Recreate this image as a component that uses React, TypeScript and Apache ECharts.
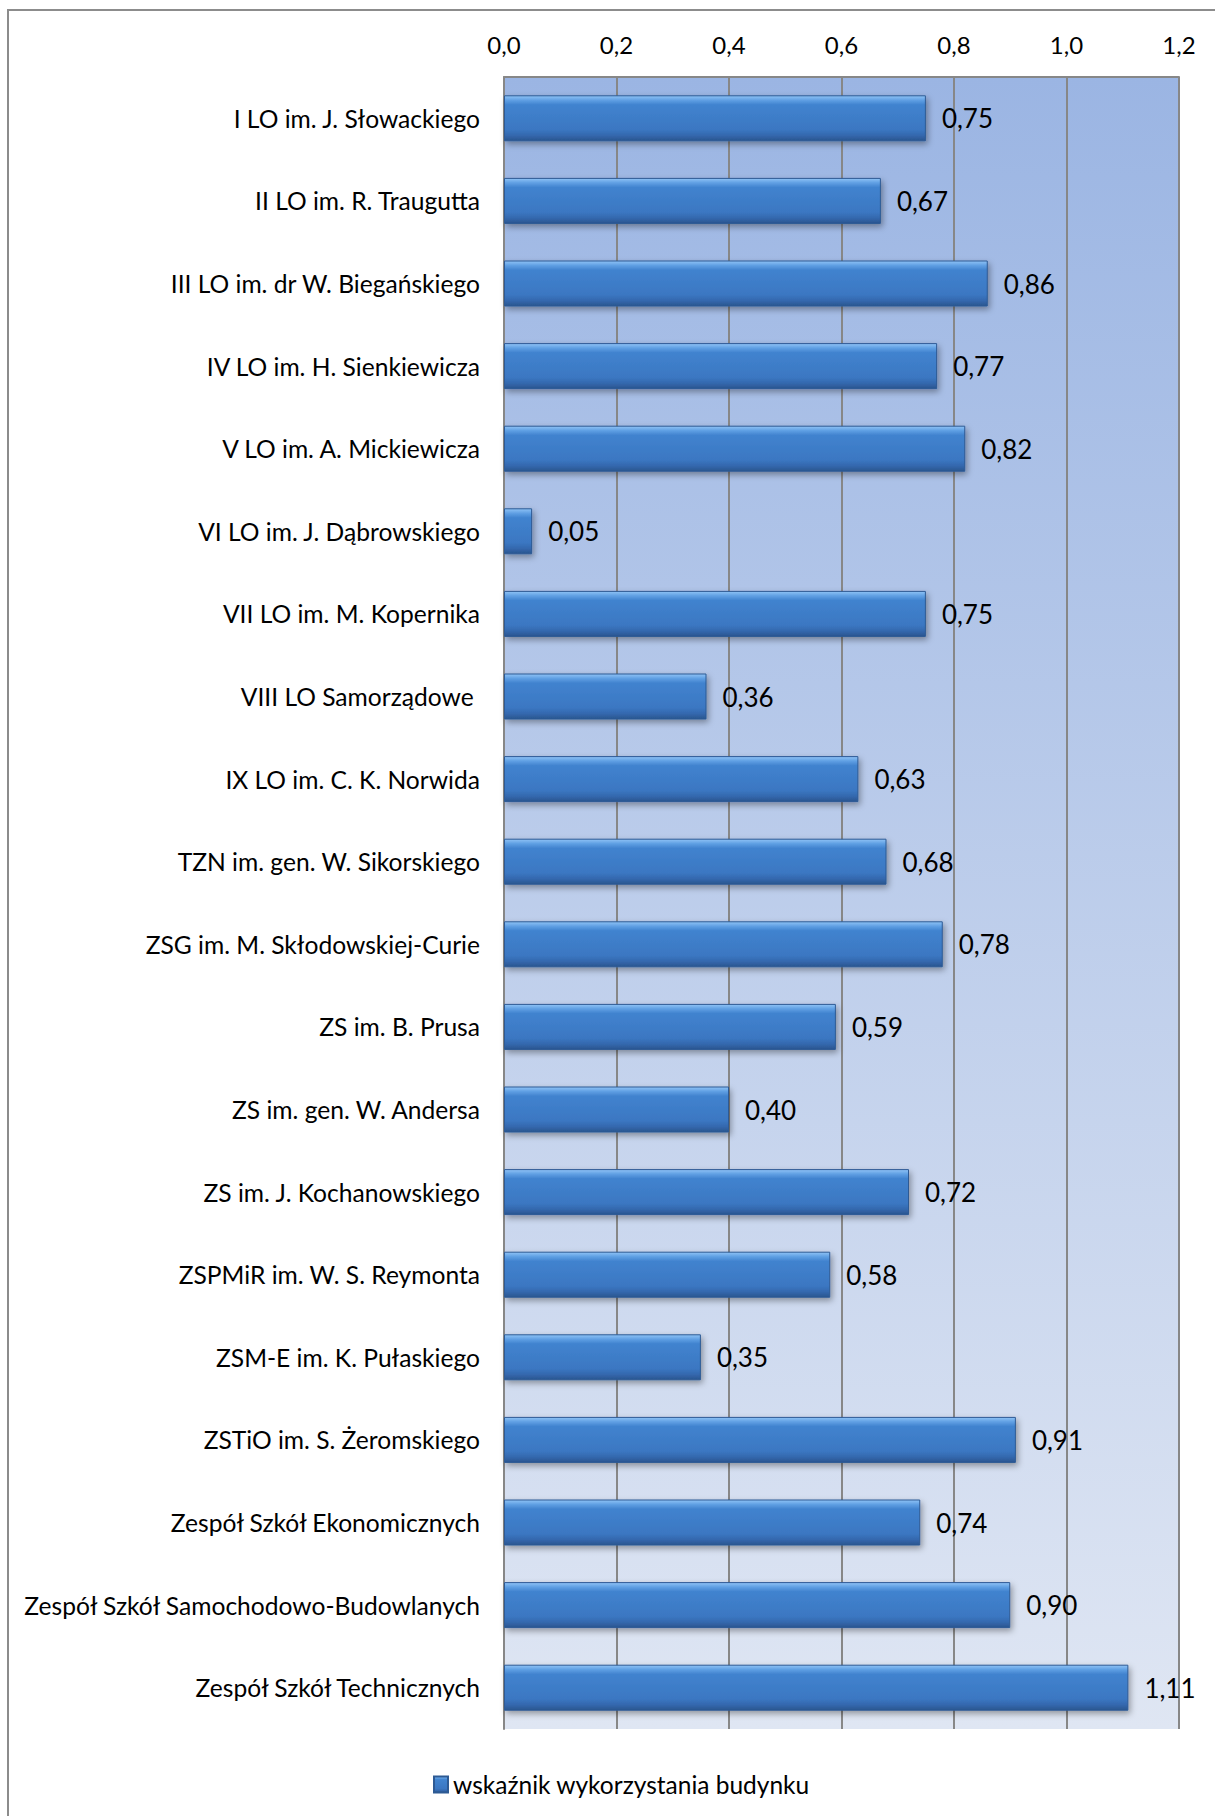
import React, { useEffect, useRef } from "react";
import * as echarts from "echarts";

const categories: string[] = [
  "I LO im. J. Słowackiego",
  "II LO im. R. Traugutta",
  "III LO im. dr W. Biegańskiego",
  "IV LO im. H. Sienkiewicza",
  "V LO im. A. Mickiewicza",
  "VI LO im. J. Dąbrowskiego",
  "VII LO im. M. Kopernika",
  "VIII LO Samorządowe ",
  "IX LO im. C. K. Norwida",
  "TZN im. gen. W. Sikorskiego",
  "ZSG im. M. Skłodowskiej-Curie",
  "ZS im. B. Prusa",
  "ZS im. gen. W. Andersa",
  "ZS im. J. Kochanowskiego",
  "ZSPMiR im. W. S. Reymonta",
  "ZSM-E im. K. Pułaskiego",
  "ZSTiO im. S. Żeromskiego",
  "Zespół Szkół Ekonomicznych",
  "Zespół Szkół Samochodowo-Budowlanych",
  "Zespół Szkół Technicznych",
];

const values: number[] = [
  0.75, 0.67, 0.86, 0.77, 0.82, 0.05, 0.75, 0.36, 0.63, 0.68, 0.78, 0.59, 0.4,
  0.72, 0.58, 0.35, 0.91, 0.74, 0.9, 1.11,
];

const seriesName = "wskaźnik wykorzystania budynku";
const FONT = "Lato, 'Noto Sans', sans-serif";

export default function App() {
  const ref = useRef<HTMLDivElement>(null);
  useEffect(() => {
    document.body.style.margin = "0";
    if (!ref.current) return;
    const chart = echarts.init(ref.current, null, { renderer: "svg" });
    const barGradient = new echarts.graphic.LinearGradient(0, 0, 0, 1, [
      { offset: 0, color: "#8fc3f6" },
      { offset: 0.1, color: "#5f9fe3" },
      { offset: 0.2, color: "#4183cf" },
      { offset: 0.75, color: "#3b77c2" },
      { offset: 0.88, color: "#3468ae" },
      { offset: 1, color: "#2a558f" },
    ]);
    chart.setOption({
      animation: false,
      backgroundColor: "#ffffff",
      textStyle: { fontFamily: FONT },
      graphic: [
        {
          type: "rect",
          z: -10,
          shape: { x: 8, y: 10, width: 1400, height: 2000 },
          style: { fill: "none", stroke: "#8c8c8c", lineWidth: 2 },
        },
      ],
      grid: {
        left: 504,
        right: 36,
        top: 77,
        bottom: 87,
        show: true,
        borderWidth: 0,
        backgroundColor: new echarts.graphic.LinearGradient(0, 0, 0, 1, [
          { offset: 0, color: "#9bb5e3" },
          { offset: 1, color: "#dfe6f3" },
        ]),
      },
      legend: {
        data: [seriesName],
        left: 428,
        top: 1767,
        icon: "rect",
        itemWidth: 14,
        itemHeight: 16,
        itemGap: 8,
        textStyle: { fontFamily: FONT, fontSize: 24.5, color: "#000" },
      },
      xAxis: {
        type: "value",
        position: "top",
        min: 0,
        max: 1.2,
        interval: 0.2,
        axisLine: { show: true, lineStyle: { color: "#878787", width: 2 } },
        axisTick: { show: false },
        splitLine: { show: true, lineStyle: { color: "#878787", width: 2 } },
        axisLabel: {
          color: "#000",
          fontSize: 24,
          fontFamily: FONT,
          margin: 21,
          formatter: (v: number) => v.toFixed(1).replace(".", ","),
        },
      },
      yAxis: {
        type: "category",
        data: categories,
        inverse: true,
        axisLine: { show: true, lineStyle: { color: "#878787", width: 2 } },
        axisTick: { show: false },
        splitLine: { show: false },
        axisLabel: {
          color: "#000",
          fontSize: 24.6,
          fontFamily: FONT,
          margin: 24,
        },
      },
      series: [
        {
          name: seriesName,
          type: "bar",
          data: values,
          barWidth: 46,
          itemStyle: {
            color: barGradient,
            borderColor: "#2d5a94",
            borderWidth: 1,
            shadowBlur: 6,
            shadowColor: "rgba(0,0,0,0.35)",
            shadowOffsetX: 2,
            shadowOffsetY: 3,
          },
          label: {
            show: true,
            position: "right",
            distance: 16,
            color: "#000",
            fontSize: 26,
            fontFamily: FONT,
            formatter: (p: any) => (p.value as number).toFixed(2).replace(".", ","),
          },
        },
      ],
    });
    return () => chart.dispose();
  }, []);
  return <div ref={ref} style={{ width: 1215, height: 1816 }} />;
}
